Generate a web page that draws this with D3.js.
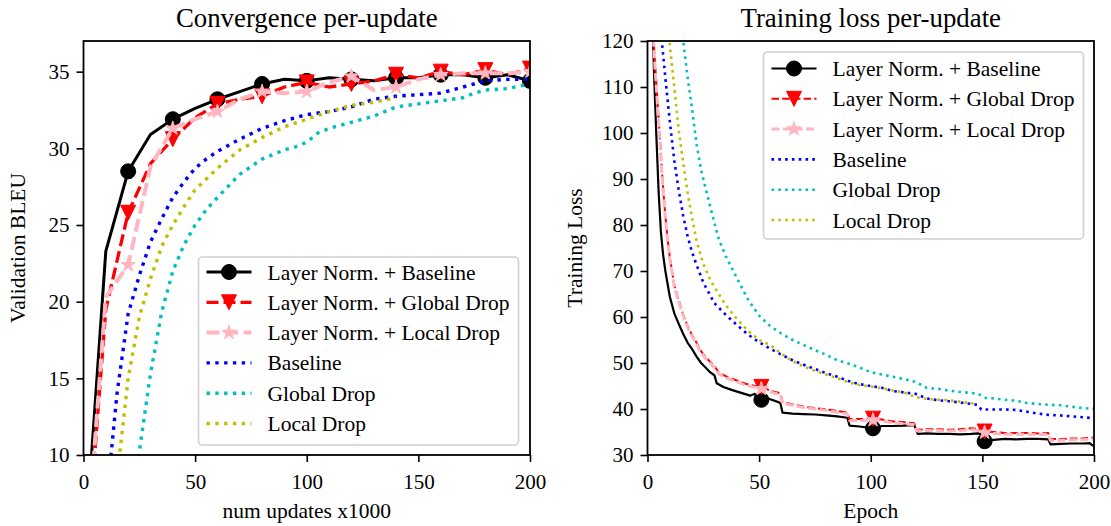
<!DOCTYPE html>
<html>
<head>
<meta charset="utf-8">
<script src="https://cdn.jsdelivr.net/npm/d3@7/dist/d3.min.js"></script>
<style>
  body { margin: 0; background: #fff; }
  svg text { font-family: "Liberation Serif", "DejaVu Serif", serif; fill: #000; }
</style>
</head>
<body>
<svg id="chart" width="1111" height="526"></svg>
<script>
// ---------------- data: left panel (BLEU vs updates x1000) ----------------
var updX = [0, 10, 20, 30, 40, 50, 60, 70, 80, 90, 100, 110, 120, 130, 140, 150, 160, 170, 180, 190, 200];
var lnBaseBleu   = [2.5, 23.3, 28.5, 30.9, 31.9, 32.6, 33.2, 33.7, 34.2, 34.5, 34.4, 34.6, 34.5, 34.4, 34.6, 34.6, 34.8, 34.8, 34.6, 34.8, 34.4];
var lnGlobalBleu = [0.5, 19.5, 25.8, 29.0, 30.6, 32.0, 32.9, 33.2, 33.4, 34.0, 34.3, 34.0, 34.2, 34.4, 34.8, 34.6, 35.0, 34.8, 35.1, 34.8, 35.2];
var lnLocalBleu  = [1.0, 20.3, 22.4, 28.8, 31.3, 31.9, 32.4, 33.2, 33.7, 33.6, 33.7, 34.3, 34.7, 33.8, 34.0, 34.5, 34.8, 34.9, 34.9, 34.9, 35.0];

var baseUpd  = [10, 15, 20, 25, 30, 35, 40, 45, 50, 55, 60, 70, 80, 90, 100, 110, 120, 130, 140, 150, 160, 170, 180, 190, 200];
var baseBleu = [6.5, 14.0, 19.2, 21.7, 23.9, 25.4, 26.8, 27.8, 28.7, 29.3, 29.8, 30.6, 31.3, 31.8, 32.2, 32.4, 32.7, 33.2, 33.4, 33.5, 33.6, 34.0, 34.4, 34.5, 34.5];

var globalUpd  = [20, 25, 30, 35, 40, 45, 50, 55, 60, 70, 80, 90, 95, 100, 105, 110, 120, 130, 140, 150, 160, 170, 175, 180, 190, 200];
var globalBleu = [3.0, 10.2, 15.3, 19.3, 22.0, 23.7, 25.0, 26.0, 26.8, 28.3, 29.3, 29.9, 30.1, 30.4, 31.0, 31.3, 31.7, 32.1, 32.7, 32.9, 33.1, 33.3, 33.6, 33.8, 33.9, 34.2];

var localUpd  = [15, 20, 25, 30, 35, 40, 45, 50, 55, 60, 70, 80, 90, 100, 110, 120, 130, 140];
var localBleu = [8.5, 15.0, 19.0, 21.5, 23.6, 25.0, 26.2, 27.3, 28.0, 28.7, 29.9, 30.7, 31.4, 31.9, 32.4, 32.8, 33.0, 33.3];

var leftMarkAt = [20, 40, 60, 80, 100, 120, 140, 160, 180, 200];

// ---------------- data: right panel (training loss vs epoch) ----------------
var lnBaseEp   = [1, 2, 2.5, 3, 4, 5, 6, 7, 8, 10, 12, 14, 16, 18, 20, 22, 24, 26, 28, 30, 31, 34, 38, 42, 46, 48, 49, 51, 54, 58,
                  59.5, 60.5, 65, 70, 75, 80, 85, 89.5, 90.5, 95, 101, 105, 110, 115, 119.5, 121, 125, 130, 135, 140,
                  145, 148, 150, 151, 153, 155, 160, 165, 170, 175, 179.5, 180.5, 185, 190, 195, 198, 200];
var lnBaseLoss = [160, 128, 120, 112, 99, 87, 78.5, 73.5, 70, 64.4, 60.8, 58.5, 56.3, 54.4, 53, 51.4, 50, 49, 48, 47.3, 45.6, 44.8, 44.1, 43.5, 42.9, 43.3, 42.5, 42.0, 42.3, 41.6,
                  41.3, 39.2, 39.0, 38.9, 38.8, 38.6, 38.4, 38.1, 36.4, 36.2, 35.8, 36.3, 36.3, 36.4, 36.5, 34.6, 34.7, 34.6, 34.6, 34.5,
                  34.6, 34.7, 34.4, 33.0, 33.2, 33.3, 33.5, 33.4, 33.5, 33.5, 33.4, 32.3, 32.4, 32.5, 32.5, 32.6, 31.9];

var lnDropEp     = [1, 2, 3, 4, 5, 6, 7, 8, 9, 10, 12, 14, 16, 18, 20, 22, 24, 26, 28, 30,
                    32, 36, 40, 44, 48, 51, 55, 59.5, 60.5, 65, 70, 75, 80, 85, 89.5, 90.5, 95, 101, 105, 110,
                    115, 119.5, 120.5, 125, 130, 135, 140, 145, 150, 151, 155, 160, 165, 170, 175, 179.5, 180.5, 185, 190, 195, 200];
var lnGlobalLoss = [170, 130, 118, 110.5, 103, 95.5, 88, 82, 77, 73, 67, 63.6, 60.5, 58, 56, 54.4, 52.6, 51.3, 50.3, 49.3,
                    47.9, 46.9, 46.2, 45.5, 45.0, 44.8, 44.0, 43.4, 41.5, 41.0, 40.5, 40.2, 39.9, 39.6, 39.2, 37.8, 37.8, 37.9, 37.7, 37.3,
                    37.1, 36.9, 35.5, 35.6, 35.6, 35.5, 35.6, 35.8, 35.6, 35.1, 35.0, 34.8, 34.8, 34.8, 34.7, 34.8, 33.4, 33.5, 33.6, 33.6, 33.8];
var lnLocalLoss  = [168, 129, 117, 109.5, 102, 94.5, 87.3, 81.5, 76.6, 72.6, 66.6, 63.3, 60.2, 57.7, 55.7, 54.1, 52.3, 51.0, 50.0, 49.0,
                    47.6, 46.6, 45.9, 45.2, 44.7, 44.4, 43.7, 43.1, 41.2, 40.8, 40.3, 40.0, 39.7, 39.3, 38.9, 37.5, 37.5, 37.6, 37.4, 37.0,
                    36.8, 36.6, 35.2, 35.3, 35.3, 35.2, 35.3, 35.5, 35.3, 34.9, 34.7, 34.5, 34.5, 34.5, 34.4, 34.5, 33.1, 33.2, 33.3, 33.3, 33.5];

var baseEp   = [6, 8, 10, 12, 14, 16, 18, 20, 22, 25, 30, 35, 40, 45, 50, 55, 60, 65, 70, 75,
                80, 85, 90, 95, 100, 105, 110, 115, 120, 125, 130, 135, 140, 145, 148, 149.5, 155, 160, 165, 170, 175, 180, 185, 190, 195, 200];
var baseLoss = [122, 112, 102.5, 94, 87.5, 82, 77.5, 74, 71.3, 67.5, 63, 60.5, 58.3, 56.2, 54.5, 53.1, 51.8, 50.6, 49.6, 48.7,
                47.8, 47.0, 46.1, 45.4, 45.0, 44.6, 43.9, 43.6, 43.3, 42.3, 41.9, 41.7, 41.4, 41.1, 40.9, 39.9, 39.9, 39.9, 39.8, 39.4, 39.0, 38.7, 38.6, 38.4, 38.2, 38.0];

var globalEp   = [15, 16, 18, 20, 22, 24, 26, 28, 30, 32, 35, 38, 40, 45, 50, 55, 60, 65, 70, 75,
                  80, 85, 90, 95, 100, 105, 110, 115, 120, 125, 130, 135, 140, 145, 148, 151.5, 155, 160, 165, 170, 175, 180, 185, 190, 195, 200];
var globalLoss = [124, 120, 112, 105, 97.5, 92, 88, 84.2, 80.4, 76.8, 73.3, 70.4, 68.5, 63.8, 60.3, 58.0, 56.4, 55.0, 53.9, 52.8,
                  51.8, 50.6, 49.9, 49.0, 48.0, 47.5, 47.0, 46.5, 45.9, 44.6, 44.4, 44.0, 43.7, 43.5, 43.3, 42.4, 42.3, 42.0, 41.8, 41.3, 41.1, 40.9, 40.8, 40.5, 40.2, 40.0];

var localEp   = [9, 10, 12, 14, 16, 18, 20, 22, 25, 28, 30, 35, 40, 45, 50, 55, 60, 65, 70, 75,
                 80, 85, 90, 95, 100, 105, 110, 115, 120, 125, 130, 135, 140, 146];
var localLoss = [124, 119, 110, 100.5, 93.5, 87, 81.5, 76.5, 71.5, 68.2, 66.5, 62.6, 59.6, 57.0, 55.0, 53.9, 52.0, 50.4, 49.2, 48.3,
                 47.5, 46.7, 45.8, 45.2, 44.9, 44.5, 44.0, 43.6, 42.6, 42.2, 42.0, 41.9, 41.6, 41.2];

var rightMarkAt = [1, 51, 101, 151];

var seriesNames = ["Layer Norm. + Baseline", "Layer Norm. + Global Drop", "Layer Norm. + Local Drop",
                   "Baseline", "Global Drop", "Local Drop"];
var leftTicksY = [10, 15, 20, 25, 30, 35];
var rightTicksY = [30, 40, 50, 60, 70, 80, 90, 100, 110, 120];
var ticksX = [0, 50, 100, 150, 200];

var svg = d3.select("#chart");

// marker shapes, matplotlib-like (ms = marker size in px)
function markerPath(kind, ms) {
    var r = ms / 2;
    if (kind === "circle") {
        return d3.symbol().type(d3.symbolCircle).size(Math.PI * r * r)();
    }
    if (kind === "tri") {
        return "M0," + r + "L" + (-r) + "," + (-r) + "L" + r + "," + (-r) + "Z";
    }
    // 5 point star
    var pts = [];
    for (var i = 0; i < 10; i++) {
        var rad = (i % 2 === 0) ? r : r * 0.382;
        var a = -Math.PI / 2 + i * Math.PI / 5;
        pts.push([rad * Math.cos(a), rad * Math.sin(a)]);
    }
    return "M" + pts.map(function (p) { return p.join(","); }).join("L") + "Z";
}

function drawPanel(p) {
    var x = d3.scaleLinear().domain([0, 200]).range([p.left, p.right]);
    var y = d3.scaleLinear().domain(p.yDomain).range([p.bottom, p.top]);
    var g = svg.append("g");

    svg.append("clipPath").attr("id", p.id + "-clip")
        .append("rect")
        .attr("x", p.left).attr("y", p.top)
        .attr("width", p.right - p.left).attr("height", p.bottom - p.top);

    var plot = g.append("g").attr("clip-path", "url(#" + p.id + "-clip)");

    p.series.forEach(function (s) {
        var pts = s.xs.map(function (v, i) { return [v, s.ys[i]]; });
        plot.append("path")
            .datum(pts)
            .attr("fill", "none")
            .attr("stroke", s.color)
            .attr("stroke-width", s.width)
            .attr("stroke-dasharray", s.dash || null)
            .attr("stroke-linejoin", "round")
            .attr("d", d3.line()
                .x(function (d) { return x(d[0]); })
                .y(function (d) { return y(d[1]); }));

        if (s.marker) {
            plot.selectAll(null)
                .data(pts.filter(function (d) { return p.markAt.indexOf(d[0]) >= 0; }))
                .enter()
                .append("path")
                .attr("transform", function (d) { return "translate(" + x(d[0]) + "," + y(d[1]) + ")"; })
                .attr("d", markerPath(s.marker, p.ms))
                .attr("fill", s.color)
                .attr("stroke", s.color)
                .attr("stroke-width", 1);
        }
    });

    // axes
    var xAxis = g.append("g")
        .attr("transform", "translate(0," + p.bottom + ")")
        .call(d3.axisBottom(x).tickValues(ticksX).tickSize(7).tickPadding(12));
    var yAxis = g.append("g")
        .attr("transform", "translate(" + p.left + ",0)")
        .call(d3.axisLeft(y).tickValues(p.ticksY).tickSize(7).tickPadding(7));
    [xAxis, yAxis].forEach(function (a) {
        a.select(".domain").remove();
        a.selectAll(".tick line").attr("stroke", "#000").attr("stroke-width", 1.6);
        a.selectAll(".tick text")
            .attr("fill", "#000")
            .style("font-size", "21px")
            .style("font-family", "Liberation Serif");
    });

    // frame
    g.append("rect")
        .attr("x", p.left).attr("y", p.top)
        .attr("width", p.right - p.left).attr("height", p.bottom - p.top)
        .attr("fill", "none").attr("stroke", "#000").attr("stroke-width", 1.8);

    // titles and labels
    var cx = (p.left + p.right) / 2;
    g.append("text").attr("x", cx).attr("y", 27)
        .attr("text-anchor", "middle").style("font-size", "26.8px").text(p.title);
    g.append("text").attr("x", cx).attr("y", 518)
        .attr("text-anchor", "middle").style("font-size", "21.5px").text(p.xLabel);
    g.append("text")
        .attr("transform", "translate(" + p.yLabelX + "," + ((p.top + p.bottom) / 2) + ") rotate(-90)")
        .attr("text-anchor", "middle").style("font-size", "21.5px").text(p.yLabel);

    // legend
    var lg = g.append("g");
    lg.append("rect")
        .attr("x", p.leg.x).attr("y", p.leg.y)
        .attr("width", p.leg.w).attr("height", p.leg.h)
        .attr("rx", 4).attr("ry", 4)
        .attr("fill", "#fff").attr("fill-opacity", 0.8)
        .attr("stroke", "#d0d0d0").attr("stroke-width", 1.6);

    p.series.forEach(function (s, i) {
        var ry = p.leg.y + p.leg.row0 + i * p.leg.step;
        var hx0 = p.leg.x + 8, hx1 = p.leg.x + 53;
        lg.append("line")
            .attr("x1", hx0).attr("x2", hx1).attr("y1", ry).attr("y2", ry)
            .attr("stroke", s.color).attr("stroke-width", s.width)
            .attr("stroke-dasharray", s.dash || null);
        if (s.marker) {
            lg.append("path")
                .attr("transform", "translate(" + ((hx0 + hx1) / 2) + "," + ry + ")")
                .attr("d", markerPath(s.marker, p.ms))
                .attr("fill", s.color).attr("stroke", s.color).attr("stroke-width", 1);
        }
        lg.append("text")
            .attr("x", p.leg.x + 69).attr("y", ry)
            .attr("dy", "0.35em")
            .style("font-size", "21.5px")
            .text(seriesNames[i]);
    });
}

drawPanel({
    id: "bleu",
    left: 83.5, right: 530, top: 41, bottom: 455,
    yDomain: [10, 37], ticksY: leftTicksY,
    title: "Convergence per-update", xLabel: "num updates x1000", yLabel: "Validation BLEU", yLabelX: 25,
    markAt: leftMarkAt, ms: 15,
    leg: { x: 198.5, y: 257, w: 320, h: 188, row0: 15, step: 30.3 },
    series: [
        { xs: updX, ys: lnBaseBleu, color: "#000000", width: 3, marker: "circle" },
        { xs: updX, ys: lnGlobalBleu, color: "#ff0000", width: 3.3, dash: "12,5", marker: "tri" },
        { xs: updX, ys: lnLocalBleu, color: "#ffb6c1", width: 4, dash: "13,5.5", marker: "star" },
        { xs: baseUpd, ys: baseBleu, color: "#0000ff", width: 3.4, dash: "3.4,5.4" },
        { xs: globalUpd, ys: globalBleu, color: "#00bfbf", width: 3.4, dash: "3.4,5.4" },
        { xs: localUpd, ys: localBleu, color: "#bfbf00", width: 3.4, dash: "3.4,5.4" }
    ]
});

drawPanel({
    id: "loss",
    left: 647.5, right: 1094, top: 41, bottom: 455,
    yDomain: [30, 120], ticksY: rightTicksY,
    title: "Training loss per-update", xLabel: "Epoch", yLabel: "Training Loss", yLabelX: 582,
    markAt: rightMarkAt, ms: 15,
    leg: { x: 763.5, y: 52, w: 320, h: 187, row0: 16.5, step: 30.3 },
    series: [
        { xs: lnBaseEp, ys: lnBaseLoss, color: "#000000", width: 2.2, marker: "circle" },
        { xs: lnDropEp, ys: lnGlobalLoss, color: "#ff0000", width: 2, dash: "7.5,3.2", marker: "tri" },
        { xs: lnDropEp, ys: lnLocalLoss, color: "#ffb6c1", width: 3, dash: "8,3.5", marker: "star" },
        { xs: baseEp, ys: baseLoss, color: "#0000ff", width: 2.6, dash: "2.6,4.2" },
        { xs: globalEp, ys: globalLoss, color: "#00bfbf", width: 2.6, dash: "2.6,4.2" },
        { xs: localEp, ys: localLoss, color: "#bfbf00", width: 2.6, dash: "2.6,4.2" }
    ]
});
</script>
</body>
</html>
